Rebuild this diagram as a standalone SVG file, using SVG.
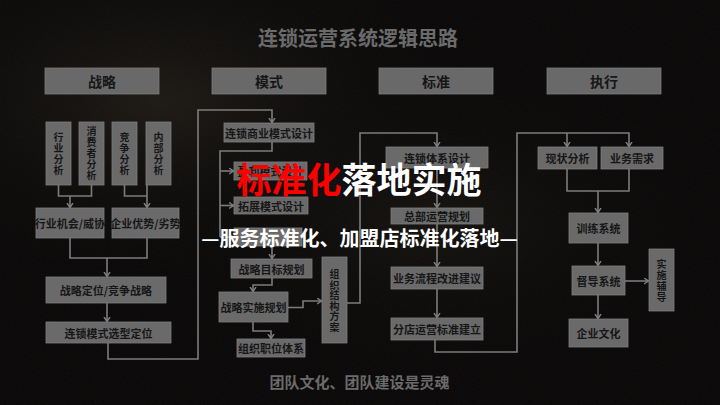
<svg xmlns="http://www.w3.org/2000/svg" width="720" height="405" viewBox="0 0 720 405">
<defs>
<radialGradient id="glow1" cx="0.22" cy="0.25" r="0.45">
<stop offset="0" stop-color="#221e19" stop-opacity="0.8"/>
<stop offset="1" stop-color="#080707" stop-opacity="0"/>
</radialGradient>
<radialGradient id="glow2" cx="0.6" cy="0.55" r="0.4">
<stop offset="0" stop-color="#1a1713" stop-opacity="0.7"/>
<stop offset="1" stop-color="#080707" stop-opacity="0"/>
</radialGradient>
<filter id="noise" x="0" y="0" width="100%" height="100%">
<feTurbulence type="fractalNoise" baseFrequency="0.9" numOctaves="2" seed="3"/>
<feColorMatrix type="matrix" values="0 0 0 0 0.3  0 0 0 0 0.26  0 0 0 0 0.22  0 0 0 0.18 0"/>
</filter>
<marker id="arr" markerWidth="8" markerHeight="8" refX="5" refY="3.5" orient="auto" markerUnits="userSpaceOnUse">
<path d="M0.5,0.5 L5,3.5 L0.5,6.5" fill="none" stroke="#808080" stroke-width="1.4"/>
</marker>
<style>
.bx{fill:#6a6a6a;stroke:#7e7e7e;stroke-width:0.8}
.hd{fill:#696969;stroke:#7a7a7a;stroke-width:0.8}
.t{font-family:"Noto Sans CJK SC","Noto Sans",sans-serif;font-weight:700;font-size:11px;fill:#161616;text-anchor:middle;dominant-baseline:central}
.tv{font-family:"Noto Sans CJK SC","Noto Sans",sans-serif;font-weight:700;font-size:10px;fill:#161616;text-anchor:middle;writing-mode:vertical-rl;letter-spacing:1px}
.th{font-family:"Noto Sans CJK SC","Noto Sans",sans-serif;font-weight:700;font-size:14px;fill:#161616;text-anchor:middle;dominant-baseline:central}
.ln{fill:none;stroke:#7c7c7c;stroke-width:1.6}
.big{font-family:"Noto Sans CJK SC","Noto Sans",sans-serif;font-weight:700}
</style>
</defs>
<rect x="0" y="0" width="720" height="405" fill="#080707"/>
<rect x="0" y="0" width="720" height="405" fill="url(#glow1)"/>
<rect x="0" y="0" width="720" height="405" fill="url(#glow2)"/>
<rect x="0" y="0" width="720" height="405" filter="url(#noise)" opacity="0.4"/>

<text x="358" y="37" class="big" font-size="20" fill="#6b6b6b" text-anchor="middle" dominant-baseline="central">连锁运营系统逻辑思路</text>

<g id="headers">
<g id="h-zhanlue"><rect class="hd" x="45" y="68" width="114" height="26"/><text class="th" x="102" y="81">战略</text></g>
<g id="h-moshi"><rect class="hd" x="212" y="68" width="114" height="26"/><text class="th" x="269" y="81">模式</text></g>
<g id="h-biaozhun"><rect class="hd" x="379" y="68" width="114" height="26"/><text class="th" x="436" y="81">标准</text></g>
<g id="h-zhixing"><rect class="hd" x="547" y="68" width="114" height="26"/><text class="th" x="604" y="81">执行</text></g>
</g>

<g id="connectors">
<path class="ln" d="M58.5,185 V196 H91.5 V185"/>
<path class="ln" d="M70,196 V207.5" marker-end="url(#arr)"/>
<path class="ln" d="M124.5,185 V196 H147"/>
<path class="ln" d="M147,185 V207.5" marker-end="url(#arr)"/>
<path class="ln" d="M70,238 V258 H147 V238"/>
<path class="ln" d="M107,258 V276.5" marker-end="url(#arr)"/>
<path class="ln" d="M107,303 V321.5" marker-end="url(#arr)"/>
<path class="ln" d="M108,343 V359 H198 V110 H272 V122.5" marker-end="url(#arr)"/>
<path class="ln" d="M272,142 V151 H220 V237"/>
<path class="ln" d="M220,171 H233.5" marker-end="url(#arr)"/>
<path class="ln" d="M220,205.5 H233.5" marker-end="url(#arr)"/>
<path class="ln" d="M220,237 H233.5" marker-end="url(#arr)"/>
<path class="ln" d="M272,246 V258.5" marker-end="url(#arr)"/>
<path class="ln" d="M272,278 V285 H253 V291.5" marker-end="url(#arr)"/>
<path class="ln" d="M288,307.5 H303 V301 H321.5" marker-end="url(#arr)"/>
<path class="ln" d="M253,322 V331 H271 V338.5" marker-end="url(#arr)"/>
<path class="ln" d="M347,303 H360 V133 H437 V146.5" marker-end="url(#arr)"/>
<path class="ln" d="M437,168 V207.5" marker-end="url(#arr)"/>
<path class="ln" d="M437,224 V266.5" marker-end="url(#arr)"/>
<path class="ln" d="M437,289 V317.5" marker-end="url(#arr)"/>
<path class="ln" d="M435,340 V352 H517 V133 H629 V146.5" marker-end="url(#arr)"/>
<path class="ln" d="M567,133 V146.5" marker-end="url(#arr)"/>
<path class="ln" d="M567,169 V191 H629 V169"/>
<path class="ln" d="M598,191 V212.5" marker-end="url(#arr)"/>
<path class="ln" d="M598,243 V265.5" marker-end="url(#arr)"/>
<path class="ln" d="M598,295 V318.5" marker-end="url(#arr)"/>
<path class="ln" d="M625,281 H648.5" marker-end="url(#arr)"/>
</g>

<g id="n-hangye"><rect class="bx" x="46" y="122" width="25" height="63"/><text class="tv" x="58.5" y="154">行业分析</text></g>
<g id="n-xiaofeizhe"><rect class="bx" x="79" y="122" width="25" height="63"/><text class="tv" x="91.5" y="154">消费者分析</text></g>
<g id="n-jingzheng"><rect class="bx" x="112" y="122" width="25" height="63"/><text class="tv" x="124.5" y="154">竞争分析</text></g>
<g id="n-neibu"><rect class="bx" x="146" y="122" width="25" height="63"/><text class="tv" x="158.5" y="154">内部分析</text></g>
<g id="n-jihui"><rect class="bx" x="36" y="208" width="68" height="30"/><text class="t" x="70" y="223">行业机会/威协</text></g>
<g id="n-youshi"><rect class="bx" x="112" y="208" width="67" height="30"/><text class="t" x="145.5" y="223">企业优势/劣势</text></g>
<g id="n-dingwei"><rect class="bx" x="46" y="277" width="120" height="26"/><text class="t" x="106" y="290">战略定位/竞争战略</text></g>
<g id="n-xuanxing"><rect class="bx" x="46" y="322" width="125" height="21"/><text class="t" x="108.5" y="332.5">连锁模式选型定位</text></g>

<g id="n-shangye"><rect class="bx" x="224" y="123" width="90" height="19"/><text class="t" x="269" y="132.5">连锁商业模式设计</text></g>
<g id="n-yingli"><rect class="bx" x="234" y="162" width="73" height="18"/><text class="t" x="270.5" y="171">盈利模式设计</text></g>
<g id="n-tuozhan"><rect class="bx" x="234" y="197" width="74" height="17"/><text class="t" x="271" y="205.5">拓展模式设计</text></g>
<g id="n-hidden"><rect class="bx" x="234" y="228" width="68" height="18"/></g>
<g id="n-mubiao"><rect class="bx" x="231" y="259" width="81" height="19"/><text class="t" x="271.5" y="268.5">战略目标规划</text></g>
<g id="n-shishi"><rect class="bx" x="219" y="292" width="69" height="30"/><text class="t" x="253.5" y="307">战略实施规划</text></g>
<g id="n-zhiwei"><rect class="bx" x="237" y="339" width="68" height="18"/><text class="t" x="271" y="348">组织职位体系</text></g>
<g id="n-jiegou"><rect class="bx" x="322" y="257" width="25" height="86"/><text class="tv" x="334.5" y="301" style="letter-spacing:0.5px">组织结构方案</text></g>

<g id="n-tixi"><rect class="bx" x="386" y="147" width="102" height="21"/><text class="t" x="437" y="157.5">连锁体系设计</text></g>
<g id="n-zongbu"><rect class="bx" x="391" y="208" width="92" height="16"/><text class="t" x="437" y="216">总部运营规划</text></g>
<g id="n-liucheng"><rect class="bx" x="391" y="267" width="92" height="22"/><text class="t" x="437" y="278">业务流程改进建议</text></g>
<g id="n-fendian"><rect class="bx" x="391" y="318" width="92" height="22"/><text class="t" x="437" y="329">分店运营标准建立</text></g>

<g id="n-xianzhuang"><rect class="bx" x="538" y="147" width="59" height="22"/><text class="t" x="567.5" y="158">现状分析</text></g>
<g id="n-xuqiu"><rect class="bx" x="601" y="147" width="62" height="22"/><text class="t" x="632" y="158">业务需求</text></g>
<g id="n-xunlian"><rect class="bx" x="569" y="213" width="59" height="30"/><text class="t" x="598.5" y="228">训练系统</text></g>
<g id="n-dudao"><rect class="bx" x="572" y="266" width="53" height="29"/><text class="t" x="598.5" y="280.5">督导系统</text></g>
<g id="n-wenhua"><rect class="bx" x="569" y="319" width="59" height="28"/><text class="t" x="598.5" y="333">企业文化</text></g>
<g id="n-fudao"><rect class="bx" x="649" y="249" width="25" height="62"/><text class="tv" x="661.5" y="281">实施辅导</text></g>

<text class="big" x="359" y="177" font-size="35" text-anchor="middle" dominant-baseline="central"><tspan fill="#ff0000">标准化</tspan><tspan fill="#ffffff">落地实施</tspan></text>
<text class="big" x="359.5" y="237" font-size="20" fill="#ffffff" text-anchor="middle" dominant-baseline="central">—服务标准化、加盟店标准化落地—</text>

<text class="big" x="359.5" y="381" font-size="15" fill="#6b6b6b" text-anchor="middle" dominant-baseline="central">团队文化、团队建设是灵魂</text>
</svg>
